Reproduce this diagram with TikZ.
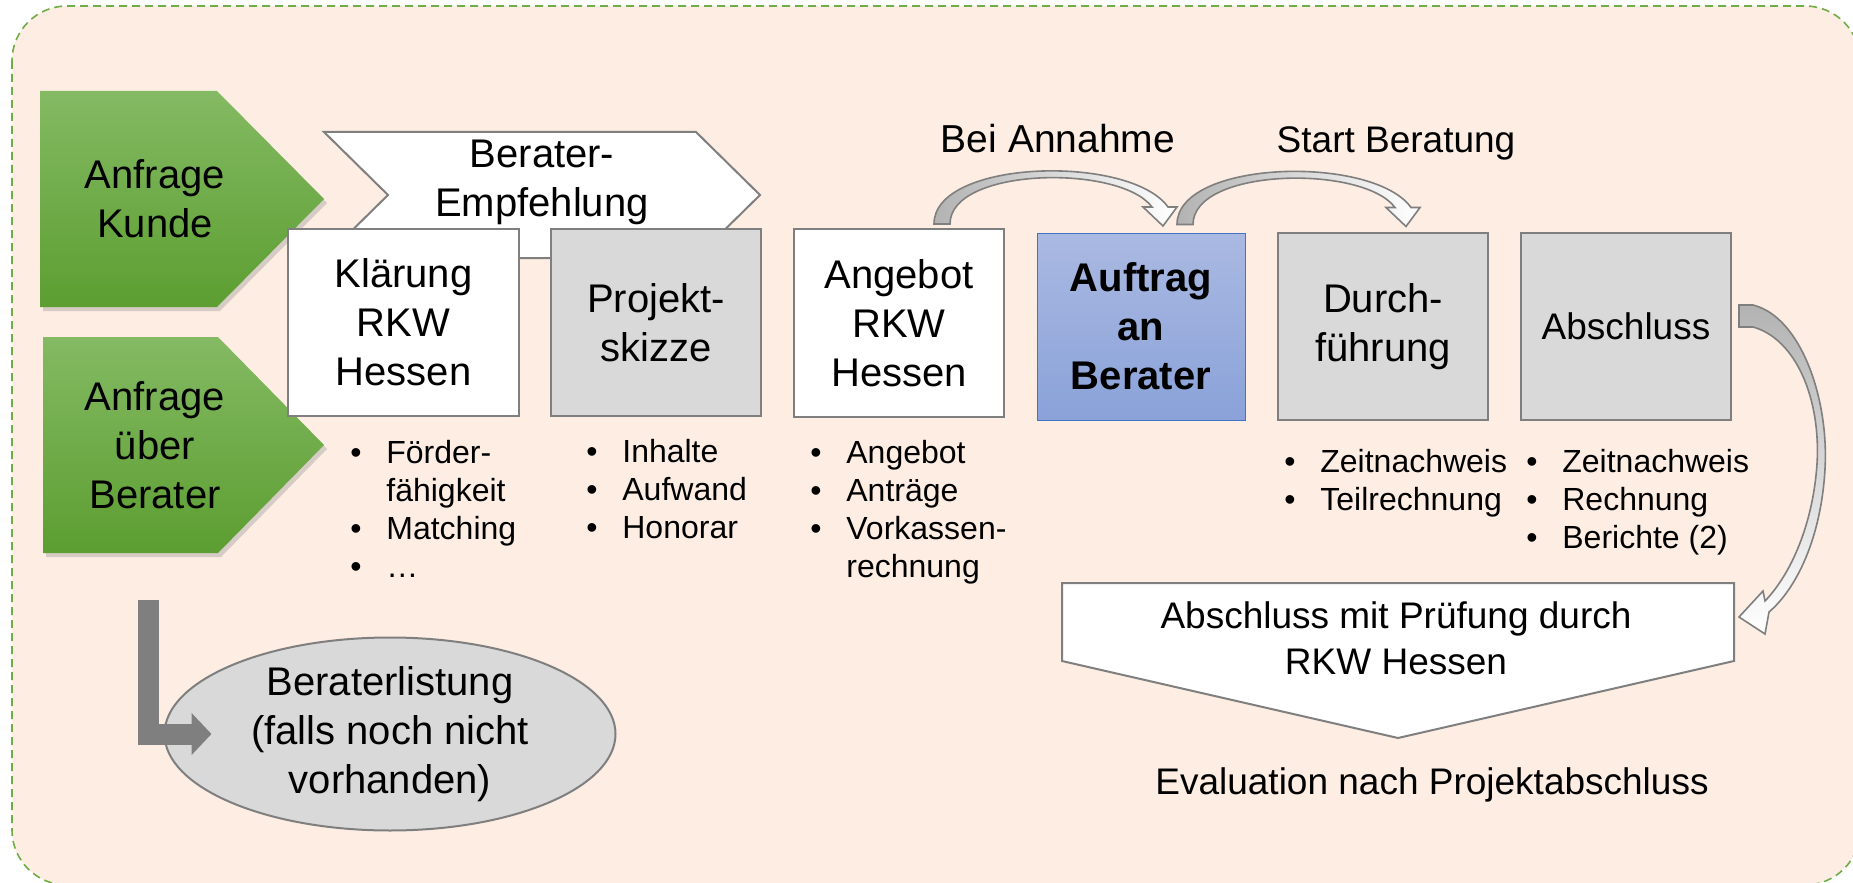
\documentclass[tikz,border=0pt]{standalone}
\usepackage{fontspec}
\setmainfont{Liberation Sans}
\usepackage{tikz}
\usetikzlibrary{arrows.meta, positioning, shapes.geometric, shadows, calc}

\definecolor{peach}{HTML}{FDEDE3}
\definecolor{framegreen}{HTML}{70AD47}
\definecolor{greenA}{HTML}{84BA63}
\definecolor{greenB}{HTML}{5C9E31}
\definecolor{boxgray}{HTML}{D9D9D9}
\definecolor{edgegray}{HTML}{7F7F7F}
\definecolor{blueA}{HTML}{AAB9E2}
\definecolor{blueB}{HTML}{8AA2D9}
\definecolor{blueE}{HTML}{4472C4}

\newcommand{\itm}{\makebox[18pt][l]{\textbullet}}
\newcommand{\ind}{\hspace*{18pt}}

\tikzset{
  bigtext/.style={font=\fontsize{20pt}{24.5pt}\selectfont, align=center},
  midtext/.style={font=\fontsize{18.5pt}{23pt}\selectfont, align=center},
  listtext/.style={font=\fontsize{16pt}{19pt}\selectfont, align=left, anchor=base west, inner sep=0pt},
  cardbox/.style={bigtext, draw=edgegray, line width=1pt, inner sep=0pt},
  whitebox/.style={cardbox, fill=white},
  graybox/.style={cardbox, fill=boxgray},
  bluebox/.style={cardbox, draw=blueE, line width=0.5pt, top color=blueA, bottom color=blueB,
    font=\fontsize{20pt}{24.5pt}\selectfont\bfseries},
  greenarrow/.style={top color=greenA, bottom color=greenB,
    drop shadow={shadow xshift=1.5pt, shadow yshift=-2pt, opacity=0.3}},
  bendarrow/.pic={
    \draw [draw=edgegray, line width=0.8pt, left color=black!30, right color=white]
      (0,0) .. controls (0,-65) and (196,-70) .. (234,-17) -- (243,-17) -- (229,2)
      -- (209,-17) -- (218,-17) .. controls (186,-60) and (16,-57) .. (16,0) -- cycle;
  }
}

\begin{document}
\begin{tikzpicture}[x=0.5pt, y=-0.5pt]
\useasboundingbox (0,0) rectangle (1853,883);

% background
\draw [framegreen, dash pattern=on 4pt off 2.5pt, line width=0.8pt, fill=peach, rounded corners=27.5pt]
  (12,6) rectangle (1860,885);

% green entries
\path [greenarrow] (40,91) -- (217,91) -- (324,199) -- (217,307) -- (40,307) -- cycle;
\path [greenarrow] (43,337) -- (218,337) -- (324,445) -- (218,553) -- (43,553) -- cycle;
\node [bigtext] (AK) at (155, 199) {Anfrage\\Kunde};
\node [bigtext] (AB) at (155, 445) {Anfrage\\über\\Berater};

% chevron
\draw [draw=edgegray, line width=1pt, fill=white]
  (324,132) -- (696,132) -- (760,195) -- (696,258) -- (324,258) -- (388,195) -- cycle;
\node [bigtext] (EMP) at (542, 182) {Berater-\\Empfehlung};

% steps
\node [whitebox, minimum width=115.5pt, minimum height=93.5pt] (KL) at (403.5, 322.5) {Klärung\\RKW\\Hessen};
\node [graybox, minimum width=105pt, minimum height=93.5pt] (PS) at (656, 322.5) {Projekt-\\skizze};
\node [whitebox, minimum width=105pt, minimum height=94pt] (ANG) at (899, 323) {Angebot\\RKW\\Hessen};
\node [bluebox, minimum width=104pt, minimum height=93.5pt] (AUF) at (1141, 326.5) {Auftrag\\an\\Berater};
\node [graybox, minimum width=105pt, minimum height=93.5pt] (DF) at (1383, 326.5) {Durch-\\führung};
\node [graybox, midtext, minimum width=105pt, minimum height=93.5pt] (ABS) at (1626, 326.5) {Abschluss};

% lists
\node [listtext] (L1) at (350, 577) {\itm Förder-\\\ind fähigkeit\\\itm Matching\\\itm …};
\node [listtext] (L2) at (586, 538) {\itm Inhalte\\\itm Aufwand\\\itm Honorar};
\node [listtext] (L3) at (810, 577) {\itm Angebot\\\itm Anträge\\\itm Vorkassen-\\\ind rechnung};
\node [listtext] (L4) at (1284, 510) {\itm Zeitnachweis\\\itm Teilrechnung};
\node [listtext] (L5) at (1526, 548) {\itm Zeitnachweis\\\itm Rechnung\\\itm Berichte (2)};

% arrows
\pic at ($(ANG.north)+(35,-4)$) {bendarrow};
\pic at ($(AUF.north)+(36,-8)$) {bendarrow};
\node [bigtext, font=\fontsize{19.5pt}{24pt}\selectfont, anchor=base] (T1) at (1058, 153) {Bei Annahme};
\node [midtext, anchor=base] (T2) at (1396, 153) {Start Beratung};

% closing
\draw [draw=edgegray, line width=1pt, fill=white]
  (1062,583) -- (1734,583) -- (1734,661) -- (1398,738) -- (1062,661) -- cycle;
\node [midtext] (PR) at (1396, 638) {Abschluss mit Prüfung durch\\RKW Hessen};
\begin{scope}[shift={(ABS.north east)}]
\draw [draw=edgegray, line width=0.8pt, top color=black!30, bottom color=white]
  (7,73) -- (21,73) .. controls (69,85) and (97,167) .. (93,237)
  .. controls (89,307) and (64,357) .. (37,380) -- (33,402) -- (7,385) -- (31,359) -- (33,369)
  .. controls (59,342) and (81,292) .. (85,232) .. controls (89,167) and (64,107) .. (21,95)
  -- (7,95) -- cycle;
\end{scope}
\node [midtext, anchor=base] (EV) at (1432, 794) {Evaluation nach Projektabschluss};

% listing
\node [ellipse, draw=edgegray, line width=1pt, fill=boxgray, inner sep=0pt,
  minimum width=225.5pt, minimum height=96.5pt, bigtext] (BL) at (390, 734)
  {Beraterlistung\\(falls noch nicht\\vorhanden)};
\coordinate (LS) at (148.5, 600);
\draw [line width=10.5pt, edgegray, -{Triangle[width=20.5pt, length=10pt]}] (LS) |- ($(BL.west)+(48,0)$);
\end{tikzpicture}
\end{document}
